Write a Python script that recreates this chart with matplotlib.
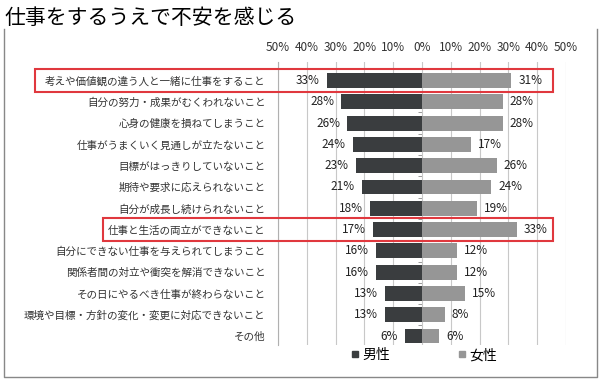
import matplotlib.pyplot as plt
from matplotlib.lines import Line2D
from matplotlib.patches import Rectangle
from matplotlib.transforms import blended_transform_factory

plt.rcParams['font.family'] = ['Noto Sans CJK JP', 'DejaVu Sans']

# Data
categories = [
    '考えや価値観の違う人と一緒に仕事をすること',
    '自分の努力・成果がむくわれないこと',
    '心身の健康を損ねてしまうこと',
    '仕事がうまくいく見通しが立たないこと',
    '目標がはっきりしていないこと',
    '期待や要求に応えられないこと',
    '自分が成長し続けられないこと',
    '仕事と生活の両立ができないこと',
    '自分にできない仕事を与えられてしまうこと',
    '関係者間の対立や衝突を解消できないこと',
    'その日にやるべき仕事が終わらないこと',
    '環境や目標・方針の変化・変更に対応できないこと',
    'その他',
]
male = [33, 28, 26, 24, 23, 21, 18, 17, 16, 16, 13, 13, 6]
female = [31, 28, 28, 17, 26, 24, 19, 33, 12, 12, 15, 8, 6]
xticks = [-50, -40, -30, -20, -10, 0, 10, 20, 30, 40, 50]
highlighted = [0, 7]

male_color = '#3a3d3f'
female_color = '#969696'

fig = plt.figure(figsize=(6, 3.82), dpi=100)
ax = fig.add_axes([0.4633, 0.0969, 0.48, 0.7408])

y = list(range(len(categories)))
ax.barh(y, [-v for v in male], height=0.7, color=male_color, zorder=3)
ax.barh(y, female, height=0.7, color=female_color, zorder=3)

# value labels
for i in y:
    ax.annotate(f'{male[i]}%', (-male[i], i), xytext=(-5, 0), textcoords='offset points',
                ha='right', va='center', fontsize=8.5, color='#222222')
    ax.annotate(f'{female[i]}%', (female[i], i), xytext=(5, 0), textcoords='offset points',
                ha='left', va='center', fontsize=8.5, color='#222222')

ax.set_xlim(-50, 50)
ax.set_ylim(12.42, -0.87)
ax.set_yticks(y)
ax.set_yticklabels(categories, fontsize=7.6, color='#333333')
ax.set_xticks(xticks)
ax.set_xticklabels([f'{abs(t)}%' for t in xticks], fontsize=8.5, color='#333333')
ax.xaxis.tick_top()
ax.tick_params(axis='x', length=0, pad=6)
ax.tick_params(axis='y', length=0, pad=9)
ax.grid(axis='x', color='#c8c8c8', linewidth=0.8, zorder=0)
for s in ['top', 'right', 'bottom']:
    ax.spines[s].set_visible(False)
ax.spines['left'].set_color('#b0b0b0')
ax.spines['left'].set_linewidth(0.8)

# small ticks along the centre line
sec = ax.secondary_yaxis(0.5)
sec.set_yticks([i + 0.5 for i in y[:-1]])
sec.tick_params(length=3, width=0.6, color='#888888', labelleft=False, labelright=False,
                direction='in')
for s in sec.spines.values():
    s.set_visible(False)

# red highlight boxes
trans = blended_transform_factory(fig.transFigure, ax.transData)
box_left = {0: 35 / 600, 7: 103 / 600}
for i in highlighted:
    x0 = box_left[i]
    ax.add_patch(Rectangle((x0, i - 0.55), 553 / 600 - x0, 1.1, transform=trans,
                           fill=False, edgecolor='#e0383e', linewidth=1.5,
                           clip_on=False, zorder=5))

# legend
handles = [Line2D([], [], marker='s', linestyle='', color=male_color, markersize=5),
           Line2D([], [], marker='s', linestyle='', color=female_color, markersize=5)]
fig.legend(handles, ['男性', '女性'], loc='center', bbox_to_anchor=(0.705, 0.07),
           ncol=2, frameon=False, fontsize=10, handletextpad=0.1, columnspacing=4.8,
           handlelength=0.8)

# title and frame
fig.text(0.008, 0.952, '仕事をするうえで不安を感じる', fontsize=15, va='center', ha='left')
fig.add_artist(Line2D([0.006, 0.006, 0.995, 0.995], [0.925, 0.013, 0.013, 0.925],
                      color='#888888', linewidth=1))

fig.savefig('out.png', dpi=100)
